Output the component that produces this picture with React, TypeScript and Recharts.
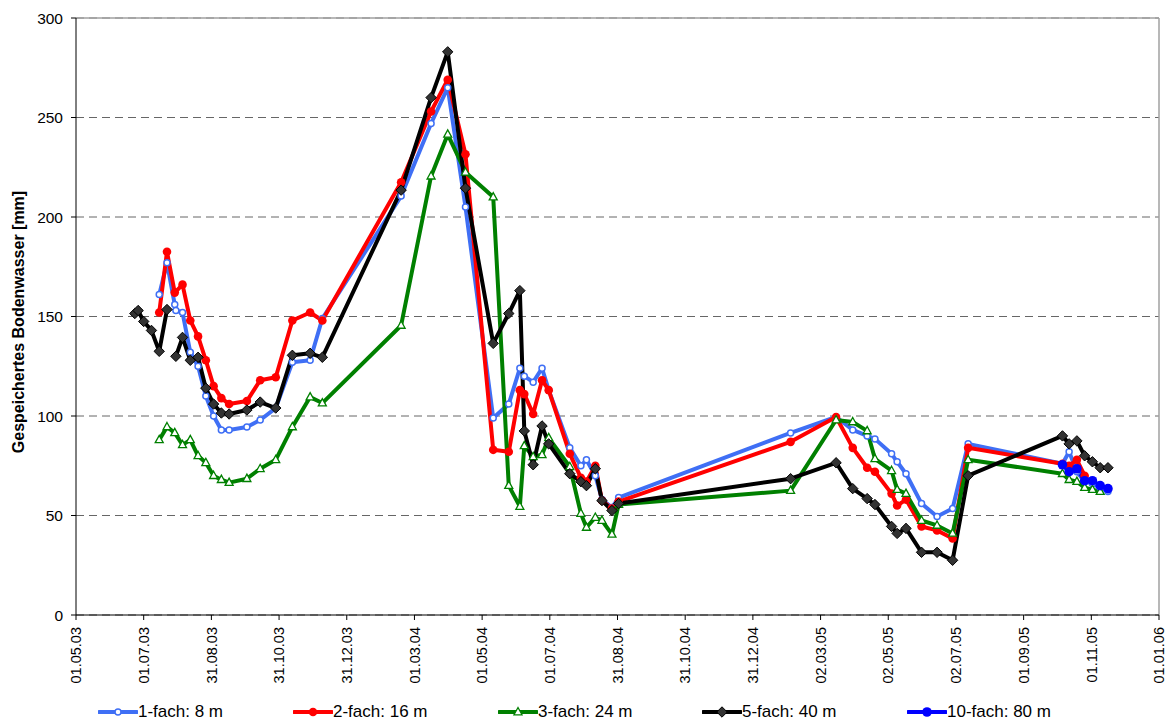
import React from 'react'
import { LineChart, Line, XAxis, YAxis, CartesianGrid, ReferenceLine } from 'recharts'

// measurement dates (shared grid); undefined = not measured, null = blank cell (line break)
const _ = undefined

const measureDates = [
  '2003-06-23', '2003-06-26', '2003-07-01', '2003-07-08', '2003-07-15', '2003-07-22', '2003-07-29', '2003-07-30',
  '2003-08-05', '2003-08-12', '2003-08-19', '2003-08-26', '2003-09-02', '2003-09-09', '2003-09-16',
  '2003-10-02', '2003-10-14', '2003-10-28', '2003-11-12', '2003-11-28', '2003-12-09',
  '2004-02-18', '2004-03-16', '2004-03-31', '2004-04-16', '2004-05-11', '2004-05-25', '2004-06-04',
  '2004-06-08', '2004-06-16', '2004-06-24', '2004-06-30', '2004-07-19', '2004-07-29', '2004-08-03',
  '2004-08-11', '2004-08-17', '2004-08-26', '2004-09-01',
  '2005-02-03', '2005-03-16', '2005-03-31', '2005-04-13', '2005-04-20', '2005-05-05', '2005-05-10',
  '2005-05-18', '2005-06-01', '2005-06-15', '2005-06-29', '2005-07-13',
  '2005-10-06', '2005-10-12', '2005-10-19', '2005-10-26', '2005-11-02', '2005-11-09', '2005-11-16',
]

const fach1 = [
  _, _, _, _, 161, 177, 156, 153,
  152, 132, 125, 110, 100, 93, 93,
  94.5, 98, 104, 127, 128, 149,
  210.5, 247, 265, 205, 99, 106, 124,
  120, 117, 124, 113, 84, 75, 78,
  70, 58, 54, 59,
  91.5, 99.5, 93, 90, 88.5, 81, 77,
  71, 56, 49.5, 53.5, 86,
  76, 82, 72, 67, 66, 64, 62,
]

const fach2 = [
  _, _, _, _, 152, 182.5, 162, _,
  166, 148, 140, 128, 115, 109, 106,
  107.5, 118, 119.5, 148, 152, 148,
  217.5, 253, 269, 231.5, 83, 82, 113,
  111, 101, 118, 113, 81, 69, 67,
  75, 57.5, 53.5, 57,
  87, 99.5, 84, 74, 72, 61, 55,
  58, 44.5, 42.5, 38.5, 84,
  76, 75, 78, 70, _, _, _,
]

const fach3 = [
  _, _, _, _, 88, 94.5, 91.5, _,
  85.5, 88, 80, 76.5, 70, 68, 66.5,
  68.5, 73.5, 78, 94.5, 109.5, 106.5,
  145.5, 220.5, 241.5, 222.5, 210, 65, 54.5,
  85, 79.5, 80.5, 89, 74.5, 51, 44,
  49, 47.5, 40.5, 55.5,
  62.5, 98, 97, 92.5, 78.5, 72.5, 63,
  61, 47.5, 45, 41, 78,
  71, 68, 67, 64, 63, 62, _,
]

const fach5 = [
  151.5, 153, 147.5, 143, 132.5, 153.5, null, 130,
  139.5, 128, 129.5, 114, 106, 101.5, 101,
  103, 107, 104, 130.5, 131.5, 129.5,
  213.5, 260, 283, 214.5, 136.5, 151.5, 163,
  92.5, 75.5, 95, 86, 71, 67, 65,
  73.5, 57.5, 52.5, 56,
  68.5, 76.5, 63.5, 58.5, 55.5, 44.5, 41,
  43.5, 31.5, 31.5, 27.5, 70,
  90, 86, 87.5, 80, 77, 74, 74,
]

const fach10 = [
  _, _, _, _, _, _, _, _,
  _, _, _, _, _, _, _,
  _, _, _, _, _, _,
  _, _, _, _, _, _, _,
  _, _, _, _, _, _, _,
  _, _, _, _,
  _, _, _, _, _, _, _,
  _, _, _, _, _,
  75.5, 72, 73.5, 67.5, 67.5, 65, 63.5,
]

const xTickDates = [
  '2003-05-01', '2003-07-01', '2003-08-31', '2003-10-31', '2003-12-31', '2004-03-01',
  '2004-05-01', '2004-07-01', '2004-08-31', '2004-10-31', '2004-12-31', '2005-03-02',
  '2005-05-02', '2005-07-02', '2005-09-01', '2005-11-01', '2006-01-01',
]
const yTicks = [0, 50, 100, 150, 200, 250, 300]

const DAY = 86400000
const START = Date.parse(xTickDates[0])
const toDay = (iso: string) => Math.round((Date.parse(iso) - START) / DAY)
const fmtDay = (d: number) => {
  const dt = new Date(START + d * DAY)
  const p = (n: number) => String(n).padStart(2, '0')
  return `${p(dt.getUTCDate())}.${p(dt.getUTCMonth() + 1)}.${p(dt.getUTCFullYear() % 100)}`
}
const xTicks = xTickDates.map(toDay)
const xMax = xTicks[xTicks.length - 1]

const series = [
  { name: '1-fach: 8 m', values: fach1, color: '#3f6ff5', marker: 'ring' },
  { name: '2-fach: 16 m', values: fach2, color: '#ff0000', marker: 'dot' },
  { name: '3-fach: 24 m', values: fach3, color: '#008000', marker: 'tri' },
  { name: '5-fach: 40 m', values: fach5, color: '#000000', marker: 'diamond' },
  { name: '10-fach: 80 m', values: fach10, color: '#0000ff', marker: 'big' },
]

const toPoints = (values: (number | null | undefined)[]) =>
  measureDates
    .map((iso, i) => ({ d: toDay(iso), v: values[i] }))
    .filter((p) => p.v !== undefined)

const FONT = '"Liberation Sans", Arial, sans-serif'
const legendLeft = [98, 293, 498, 702, 907]

function Marker({ kind, cx, cy, color }: { kind: string; cx: number; cy: number; color: string }) {
  if (kind === 'ring') return <circle cx={cx} cy={cy} r={3} fill="#fff" stroke={color} strokeWidth={1.5} />
  if (kind === 'dot') return <circle cx={cx} cy={cy} r={4.3} fill={color} />
  if (kind === 'tri')
    return (
      <path
        d={`M${cx},${cy - 4.5}L${cx + 4},${cy + 2.8}L${cx - 4},${cy + 2.8}Z`}
        fill="#fff" stroke={color} strokeWidth={1.3}
      />
    )
  if (kind === 'diamond')
    return (
      <path
        d={`M${cx},${cy - 5.2}L${cx + 5.2},${cy}L${cx},${cy + 5.2}L${cx - 5.2},${cy}Z`}
        fill="#333" stroke="#000" strokeWidth={1}
      />
    )
  return <circle cx={cx} cy={cy} r={4.8} fill={color} />
}

function DateTick({ x, y, payload }: any) {
  const ty = y + 5
  return (
    <text
      x={x} y={ty} dy="0.36em" transform={`rotate(-90, ${x}, ${ty})`}
      textAnchor="end" fontSize={14.5} fill="#000" fontFamily={FONT}
    >
      {fmtDay(payload.value)}
    </text>
  )
}

function LegendRow() {
  return (
    <div style={{ position: 'absolute', top: 702, left: 0, width: 1166, height: 20 }}>
      {series.map((s, i) => (
        <div
          key={s.name}
          style={{ position: 'absolute', left: legendLeft[i], top: 0, display: 'flex', alignItems: 'center', height: 20 }}
        >
          <svg width={40} height={14} style={{ display: 'block' }}>
            <line x1={1} y1={7} x2={39} y2={7} stroke={s.color} strokeWidth={4} strokeLinecap="round" />
            <Marker kind={s.marker} cx={20} cy={7} color={s.color} />
          </svg>
          <span style={{ fontSize: 17, color: '#000', fontFamily: FONT, whiteSpace: 'nowrap' }}>{s.name}</span>
        </div>
      ))}
    </div>
  )
}

export default function App() {
  return (
    <div style={{ position: 'absolute', left: 0, top: 0, width: 1166, height: 722, background: '#fff', fontFamily: FONT }}>
      <LineChart width={1166} height={722} margin={{ top: 18, right: 7, bottom: 0, left: 0 }}>
        <CartesianGrid vertical={false} stroke="#666" strokeDasharray="8 5" />
        <XAxis
          dataKey="d" type="number" domain={[0, xMax]} ticks={xTicks} interval={0}
          height={107} tickSize={5} tick={<DateTick />}
          axisLine={{ stroke: '#000' }} tickLine={{ stroke: '#000' }} allowDataOverflow
        />
        <YAxis
          type="number" domain={[0, 300]} ticks={yTicks} interval={0} width={76}
          tickSize={5} tickMargin={8}
          tick={{ fontSize: 15.5, fill: '#000', fontFamily: FONT }}
          axisLine={{ stroke: '#000' }} tickLine={{ stroke: '#000' }}
          label={{
            content: () => (
              <text
                x={24} y={322} transform="rotate(-90, 24, 322)" textAnchor="middle"
                fontSize={16} fontWeight="bold" fill="#000" fontFamily={FONT}
              >
                Gespeichertes Bodenwasser [mm]
              </text>
            ),
          }}
        />
        <ReferenceLine y={300} stroke="#a0a0a0" strokeWidth={1.5} />
        <ReferenceLine x={xMax} stroke="#a0a0a0" strokeWidth={1.5} />
        {series.map((s) => (
          <Line
            key={s.name}
            data={toPoints(s.values)}
            dataKey="v"
            name={s.name}
            stroke={s.color}
            strokeWidth={4}
            strokeLinejoin="round"
            isAnimationActive={false}
            dot={(p: any) =>
              p.cx == null || p.cy == null || p.value == null ? (
                <g key={`${s.name}-${p.index}`} />
              ) : (
                <Marker key={`${s.name}-${p.index}`} kind={s.marker} cx={p.cx} cy={p.cy} color={s.color} />
              )
            }
            activeDot={false}
          />
        ))}
      </LineChart>
      <LegendRow />
    </div>
  )
}
